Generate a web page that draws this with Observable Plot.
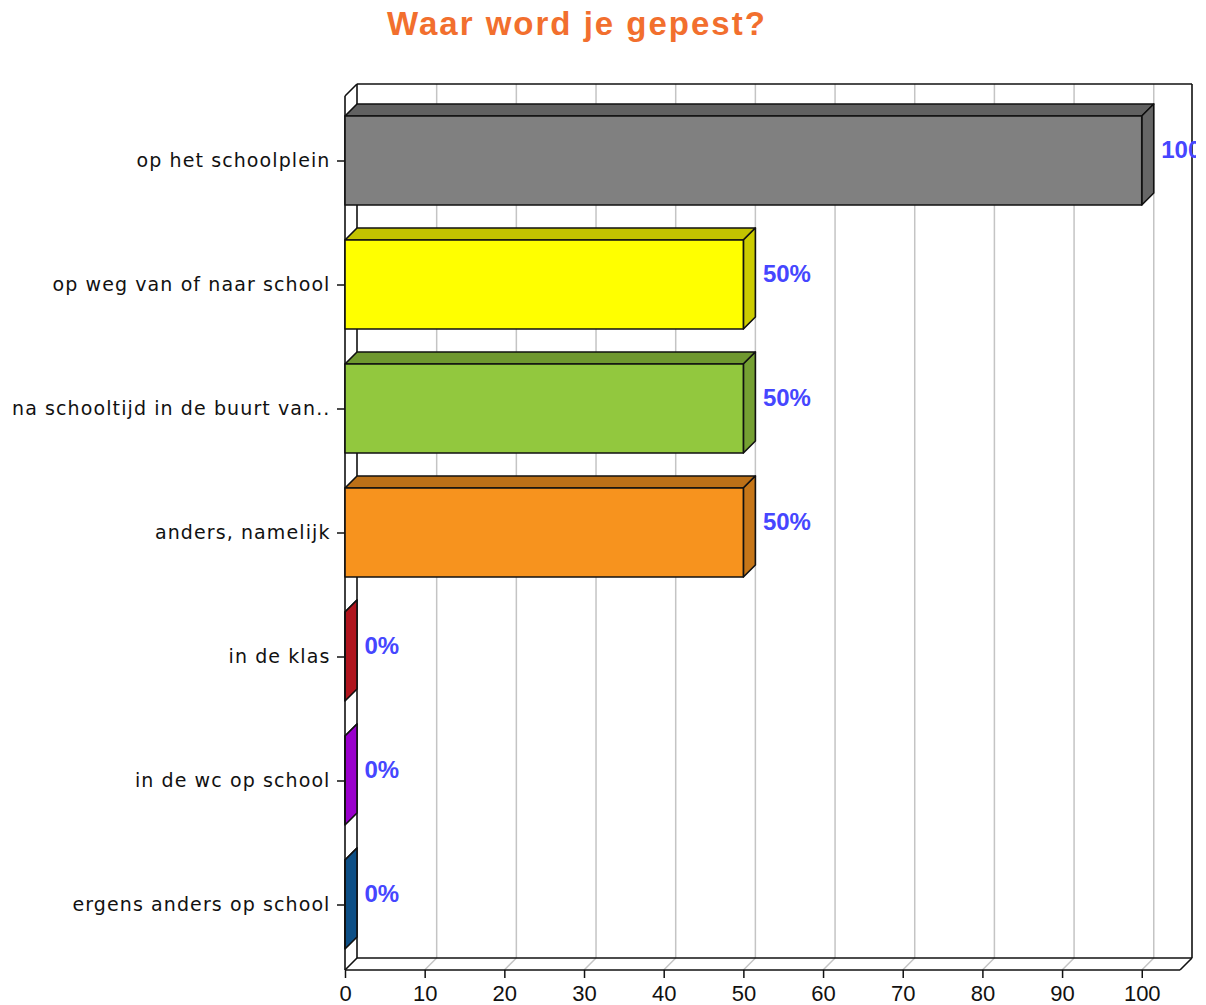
<!DOCTYPE html>
<html><head><meta charset="utf-8">
<script src="https://cdn.jsdelivr.net/npm/d3@7"></script>
<script src="https://cdn.jsdelivr.net/npm/@observablehq/plot@0.6"></script>
<style>
html,body{margin:0;padding:0;background:#fff;}
#title{height:55px;box-sizing:border-box;padding-top:7px;padding-left:387px;font-family:"Liberation Sans",Arial,sans-serif;font-weight:bold;font-size:33px;line-height:33px;letter-spacing:2px;color:#f26f2e;white-space:nowrap;}
g[aria-label="y-axis tick label"]{font-family:"DejaVu Sans",sans-serif;font-size:19px;letter-spacing:1.1px;fill:#111;}
g[aria-label="x-axis tick label"]{font-family:"Liberation Sans",sans-serif;font-size:22px;fill:#111;}
</style></head><body>
<div id="title">Waar word je gepest?</div>
<div id="chart"></div>
<script>
const categories = ["op het schoolplein","op weg van of naar school","na schooltijd in de buurt van..","anders, namelijk","in de klas","in de wc op school","ergens anders op school"];
const values = [100, 50, 50, 50, 0, 0, 0];
const valueLabels = ["100%", "50%", "50%", "50%", "0%", "0%", "0%"];
const xTicks = [0, 10, 20, 30, 40, 50, 60, 70, 80, 90, 100];
const palette = ["#808080", "#ffff00", "#92c83e", "#f7931e", "#dc1a26", "#c000ff", "#1063a8"];

const data = categories.map((c, i) => ({category: c, value: values[i], label: valueLabels[i], color: palette[i]}));

function shade(c, k) {
  const r = d3.rgb(c);
  return d3.rgb(r.r * k, r.g * k, r.b * k).formatHex();
}

// 3D walls, grid and bars drawn with Plot's x / y scales
function bars3d(index, scales, vals, dims) {
  const x = scales.x, y = scales.y;
  const D = 12;
  const bw = y.bandwidth();
  const left = dims.marginLeft, right = dims.width - dims.marginRight;
  const top = dims.marginTop, bottom = dims.height - dims.marginBottom;
  const g = d3.create("svg:g").attr("fill", "none");
  const line = (x1, y1, x2, y2, stroke, w) => g.append("line")
    .attr("x1", x1).attr("y1", y1).attr("x2", x2).attr("y2", y2)
    .attr("stroke", stroke).attr("stroke-width", w);
  for (const t of xTicks) {
    if (t === 0) continue;
    const xt = x(t);
    line(xt + D, top - D, xt + D, bottom - D, "#c4c4c4", 1.5);
    line(xt, bottom, xt + D, bottom - D, "#c4c4c4", 1.5);
  }
  const k = "#111", w = 1.6;
  line(left + D, top - D, right + D, top - D, k, w);
  line(right + D, top - D, right + D, bottom - D, k, w);
  line(left + D, top - D, left + D, bottom - D, k, w);
  line(left + D, bottom - D, right + D, bottom - D, k, w);
  line(left, top, left, bottom, k, w);
  line(left, top, left + D, top - D, k, w);
  line(left, bottom, right, bottom, k, w);
  line(right, bottom, right + D, bottom - D, k, w);
  line(left, bottom, left + D, bottom - D, k, w);
  const poly = (pts, fill) => g.append("polygon")
    .attr("points", pts.map(p => p.join(",")).join(" "))
    .attr("fill", fill).attr("stroke", k).attr("stroke-width", w).attr("stroke-linejoin", "round");
  for (const d of data) {
    const x0 = x(0), x1 = x(d.value);
    const yt = y(d.category), yb = yt + bw;
    poly([[x0, yt], [x1, yt], [x1 + D, yt - D], [x0 + D, yt - D]], shade(d.color, 0.76));
    poly([[x1, yt], [x1 + D, yt - D], [x1 + D, yb - D], [x1, yb]], shade(d.color, 0.8));
    if (d.value > 0) poly([[x0, yt], [x1, yt], [x1, yb], [x0, yb]], d.color);
    else line(x0, yt, x0, yb, k, w);
  }
  return g.node();
}

const chart = Plot.plot({
  width: 1196,
  height: 950,
  marginLeft: 345,
  marginRight: 16,
  marginTop: 41,
  marginBottom: 35,
  x: {domain: [0, 104.8]},
  y: {type: "band", domain: categories, paddingInner: 0.28, paddingOuter: 0.14},
  marks: [
    bars3d,
    Plot.text(data, {x: "value", y: "category", text: "label", dx: 19, dy: -11, textAnchor: "start",
      fill: "#4646ff", fontWeight: "bold", fontSize: 24, fontFamily: "Liberation Sans, Arial, sans-serif"}),
    Plot.axisX({ticks: xTicks, tickSize: 8, tickPadding: 7, fontSize: 22, label: null, stroke: "#111", strokeWidth: 1.5}),
    Plot.axisY({tickSize: 8, tickPadding: 7, fontSize: 19, label: null, stroke: "#111", strokeWidth: 1.5})
  ]
});
document.getElementById("chart").appendChild(chart);
</script>
</body></html>
